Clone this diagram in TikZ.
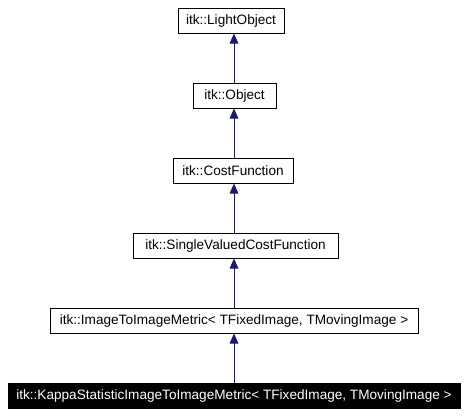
\documentclass[tikz,border=0pt]{standalone}
\usepackage{fontspec}
\setmainfont{Liberation Sans}
\usetikzlibrary{arrows.meta}
\definecolor{edgeblue}{HTML}{191970}
\begin{document}
\begin{tikzpicture}[x=0.75pt,y=-0.75pt,
  cls/.style={draw=black,line width=0.75pt,minimum height=18.75pt,inner sep=0pt,font=\fontsize{10.2}{12}\selectfont,fill=white},
  cur/.style={cls,fill=black,text=white},
  inh/.style={draw=edgeblue,line width=0.75pt,-{Triangle[length=7.5pt,width=6.5pt]},color=edgeblue}]
\useasboundingbox (0,0) rectangle (468,415);
\node[cls,minimum width=79.5pt] (light) at (231,20.5) {itk::LightObject};
\node[cls,minimum width=62.25pt] (obj) at (234.5,95.5) {itk::Object};
\node[cls,minimum width=90pt] (cost) at (233,170.5) {itk::CostFunction};
\node[cls,minimum width=153.75pt] (svcf) at (235.5,245.5) {itk::SingleValuedCostFunction};
\node[cls,minimum width=276pt] (i2i) at (234,320.5) {itk::ImageToImageMetric< TFixedImage, TMovingImage >};
\node[cur,minimum width=339pt] (kappa) at (234,395.5) {itk::KappaStatisticImageToImageMetric< TFixedImage, TMovingImage >};
\draw[inh] (obj.north -| 234,0) -- (light.south -| 234,0);
\draw[inh] (cost.north -| 234,0) -- (obj.south -| 234,0);
\draw[inh] (svcf.north -| 234,0) -- (cost.south -| 234,0);
\draw[inh] (i2i.north -| 234,0) -- (svcf.south -| 234,0);
\draw[inh] (kappa.north -| 234,0) -- (i2i.south -| 234,0);
\end{tikzpicture}
\end{document}
